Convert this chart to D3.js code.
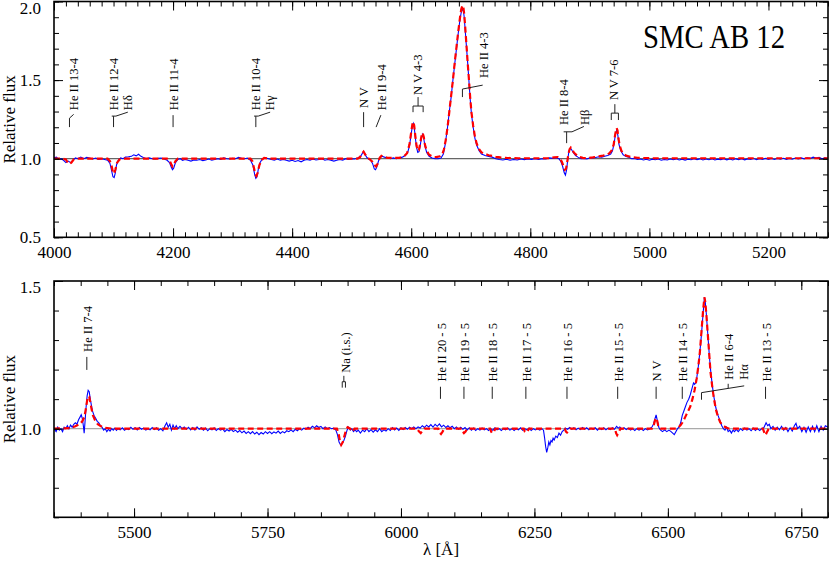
<!DOCTYPE html>
<html>
<head>
<meta charset="utf-8">
<script src="https://cdn.jsdelivr.net/npm/d3@7"></script>
<style>
  body { margin: 0; background: #fff; }
  svg, svg text { font-family: "Liberation Serif", "DejaVu Serif", "Times New Roman", serif; }
  .axis text { font-size: 17px; fill: #000; font-family: "Liberation Serif", "DejaVu Serif", serif; }
  .axis line { stroke: #000; stroke-width: 1; }
  .axis path { display: none; }
  .lbl { font-size: 12.5px; fill: #000; }
  .mark { fill: none; stroke: #222; stroke-width: 1; }
</style>
</head>
<body>
<div id="chart"></div>
<script>
// Observed spectrum (blue), upper panel: [wavelength, relative flux]
var obsTop = [
  [4000,1.005],[4004,1.01],[4008,0.995],[4012,1.0],[4016,0.99],[4020,0.975],[4024,0.985],[4028,0.975],[4032,0.99],
  [4036,1.005],[4040,1.0],[4045,1.01],[4050,1.0],[4055,1.008],[4060,1.005],[4065,0.998],[4070,1.004],[4075,0.996],
  [4080,1.0],[4085,0.995],[4090,0.99],[4094,0.97],[4097,0.92],[4099,0.885],[4101,0.88],[4103,0.91],[4105,0.96],
  [4108,0.99],[4112,1.005],[4116,1.0],[4120,1.01],[4125,1.012],[4130,1.015],[4134,1.025],[4138,1.018],[4142,1.028],
  [4146,1.015],[4150,1.008],[4155,1.0],[4160,1.005],[4165,1.0],[4170,0.998],[4175,1.002],[4180,1.004],[4185,0.998],
  [4190,0.99],[4194,0.975],[4197,0.945],[4199,0.93],[4201,0.94],[4204,0.975],[4208,0.995],[4212,1.0],[4216,0.99],
  [4220,0.995],[4225,0.99],[4230,0.985],[4235,0.992],[4240,0.99],[4245,0.995],[4250,0.988],[4255,0.992],[4260,0.998],
  [4265,0.99],[4270,0.995],[4275,1.0],[4280,0.996],[4285,1.005],[4290,1.0],[4295,0.998],[4300,1.003],[4305,1.0],
  [4310,1.008],[4315,1.002],[4320,1.0],[4325,1.004],[4330,0.99],[4334,0.96],[4337,0.9],[4339,0.875],[4341,0.885],
  [4343,0.93],[4346,0.975],[4350,1.0],[4355,1.005],[4360,1.0],[4365,0.995],[4370,0.99],[4375,0.998],[4380,0.99],
  [4385,0.995],[4390,0.99],[4395,0.985],[4400,0.99],[4405,0.982],[4410,0.988],[4415,0.98],[4420,0.99],[4425,0.995],
  [4430,0.99],[4435,0.998],[4440,0.992],[4445,0.995],[4450,1.0],[4455,0.99],[4460,0.995],[4465,0.99],[4470,0.985],
  [4475,0.99],[4480,0.995],[4485,0.99],[4490,1.0],[4495,0.995],[4500,1.0],[4505,0.998],[4510,1.004],[4515,1.015],
  [4518,1.035],[4520,1.045],[4522,1.03],[4525,1.01],[4528,1.0],[4532,0.99],[4535,0.97],[4538,0.935],[4540,0.93],
  [4542,0.945],[4545,0.985],[4548,1.01],[4551,1.015],[4555,1.01],[4560,1.005],[4565,1.0],[4570,1.005],[4575,1.0],
  [4580,1.005],[4585,1.01],[4590,1.02],[4594,1.04],[4597,1.08],[4600,1.16],[4602,1.21],[4603.5,1.225],[4605,1.2],
  [4607,1.13],[4609,1.07],[4611,1.04],[4613,1.045],[4615,1.08],[4617,1.13],[4619,1.155],[4621,1.13],[4623,1.08],
  [4626,1.04],[4630,1.015],[4635,1.005],[4640,1.0],[4645,1.0],[4650,1.005],[4654,1.03],[4657,1.09],[4661,1.2],
  [4664,1.3],[4667,1.39],[4670,1.5],[4673,1.6],[4676,1.7],[4679,1.8],[4682,1.89],[4684,1.93],[4686,1.95],
  [4687.5,1.945],[4689,1.9],[4691,1.8],[4693,1.7],[4695,1.6],[4697,1.49],[4699,1.38],[4701,1.29],[4704,1.2],
  [4707,1.13],[4710,1.085],[4714,1.05],[4718,1.03],[4724,1.02],[4730,1.015],[4736,1.01],[4742,1.0],[4748,0.995],
  [4754,0.992],[4760,0.996],[4766,0.99],[4772,0.995],[4778,0.992],[4784,0.998],[4790,0.994],[4796,0.998],[4802,0.996],
  [4808,1.0],[4814,0.995],[4820,1.0],[4826,0.998],[4832,1.005],[4838,1.002],[4843,1.006],[4848,1.0],[4851,0.985],
  [4854,0.955],[4857,0.91],[4859,0.895],[4861,0.93],[4863,1.0],[4865,1.05],[4867,1.065],[4869,1.06],[4872,1.04],
  [4876,1.02],[4880,1.01],[4885,1.0],[4890,1.002],[4895,0.998],[4900,1.005],[4905,1.004],[4910,1.008],[4915,1.012],
  [4920,1.01],[4925,1.015],[4930,1.02],[4935,1.03],[4938,1.05],[4941,1.1],[4943,1.16],[4945,1.18],[4947,1.15],
  [4949,1.09],[4952,1.05],[4956,1.025],[4960,1.015],[4965,1.01],[4970,1.0],[4975,1.002],[4980,0.995],[4985,0.998],
  [4990,0.992],[4995,0.996],[5000,0.99],[5005,0.997],[5010,0.993],[5015,0.998],[5020,0.99],[5025,0.995],[5030,0.992],
  [5035,0.998],[5040,0.993],[5045,0.999],[5050,0.992],[5055,0.997],[5060,0.991],[5065,0.996],[5070,0.993],[5075,1.0],
  [5080,0.994],[5085,0.999],[5090,0.992],[5095,0.998],[5100,0.993],[5105,0.999],[5110,0.992],[5115,0.997],[5120,0.994],
  [5125,1.0],[5130,0.993],[5135,0.998],[5140,0.992],[5145,0.999],[5150,0.994],[5155,1.0],[5160,0.993],[5165,0.999],
  [5170,0.995],[5175,1.001],[5180,0.994],[5185,1.0],[5190,0.995],[5195,1.002],[5200,0.996],[5205,1.001],[5210,0.995],
  [5215,1.002],[5220,0.997],[5225,1.003],[5230,0.996],[5235,1.002],[5240,0.997],[5245,1.004],[5250,0.998],[5255,1.005],
  [5260,0.999],[5265,1.006],[5270,1.002],[5275,1.01],[5280,1.004],[5285,1.008],[5290,1.0],[5295,1.005],[5300,1.0]
];

// Model spectrum (red dashed), upper panel
var modelTop = [
  [4000,1.0],[4015,1.0],[4020,0.995],[4023,0.975],[4026,0.965],[4029,0.975],[4033,0.995],[4040,1.0],[4090,1.0],
  [4094,0.985],[4097,0.95],[4099,0.915],[4101,0.905],[4103,0.93],[4106,0.975],[4110,0.995],[4115,1.0],[4190,1.0],
  [4194,0.99],[4197,0.965],[4199,0.95],[4201,0.958],[4204,0.985],[4208,1.0],[4330,1.0],[4333,0.985],[4336,0.94],
  [4338,0.9],[4340,0.89],[4342,0.91],[4345,0.96],[4349,0.993],[4353,1.005],[4360,1.0],[4510,1.0],[4514,1.01],
  [4517,1.03],[4520,1.045],[4523,1.025],[4527,1.005],[4531,0.995],[4535,0.98],[4538,0.96],[4541,0.95],[4544,0.97],
  [4547,1.005],[4550,1.018],[4554,1.012],[4560,1.005],[4580,1.005],[4588,1.015],[4593,1.035],[4597,1.09],[4600,1.17],
  [4602,1.22],[4603.5,1.235],[4605,1.21],[4607,1.14],[4609,1.08],[4611,1.05],[4613,1.055],[4615,1.095],[4617,1.14],
  [4619,1.165],[4621,1.14],[4623,1.09],[4626,1.05],[4630,1.025],[4636,1.012],[4642,1.01],[4648,1.015],[4652,1.025],
  [4655,1.06],[4658,1.12],[4661,1.2],[4664,1.3],[4667,1.4],[4670,1.5],[4673,1.61],[4676,1.71],[4679,1.81],
  [4682,1.9],[4684,1.95],[4686,1.975],[4687.5,1.965],[4689,1.92],[4691,1.82],[4693,1.71],[4695,1.6],[4697,1.5],
  [4699,1.39],[4701,1.3],[4704,1.21],[4707,1.14],[4710,1.095],[4714,1.06],[4718,1.04],[4724,1.03],[4730,1.022],
  [4736,1.018],[4742,1.012],[4750,1.008],[4760,1.005],[4780,1.003],[4800,1.003],[4830,1.003],[4840,1.008],[4846,1.01],
  [4850,1.0],[4853,0.98],[4856,0.95],[4858,0.93],[4860,0.935],[4862,0.98],[4864,1.03],[4866,1.06],[4868,1.07],
  [4870,1.06],[4873,1.04],[4877,1.025],[4882,1.012],[4888,1.005],[4895,1.003],[4905,1.008],[4915,1.015],[4922,1.02],
  [4928,1.025],[4933,1.035],[4937,1.055],[4940,1.09],[4942,1.14],[4944,1.185],[4945,1.195],[4946.5,1.18],[4948,1.13],
  [4950,1.085],[4953,1.05],[4957,1.03],[4962,1.018],[4970,1.01],[4980,1.006],[5000,1.003],[5300,1.003]
];

// Observed spectrum (blue), lower panel
var obsBottom = [
  [5350,1.0],[5354,0.99],[5357,1.005],[5360,0.995],[5363,1.0],[5366,0.99],[5369,1.005],[5372,1.0],[5375,1.01],
  [5378,1.0],[5381,1.012],[5384,1.005],[5387,1.015],[5390,1.02],[5393,1.015],[5396,1.03],[5399,1.04],[5401,1.047],
  [5403,1.035],[5405,1.01],[5406.5,0.985],[5408,1.02],[5410,1.07],[5412,1.11],[5414,1.13],[5416,1.125],[5418,1.1],
  [5420,1.08],[5422,1.06],[5425,1.045],[5428,1.035],[5431,1.025],[5434,1.02],[5437,1.01],[5440,1.005],[5443,0.995],
  [5446,1.0],[5449,0.99],[5452,0.998],[5455,0.992],[5458,1.0],[5461,0.995],[5464,1.002],[5467,0.994],[5470,1.0],
  [5474,0.996],[5478,1.003],[5482,0.995],[5486,1.0],[5490,0.997],[5494,1.005],[5498,0.998],[5502,1.003],[5506,0.996],
  [5510,1.004],[5514,0.998],[5518,1.002],[5522,0.995],[5526,1.0],[5530,0.996],[5534,1.004],[5538,0.997],[5542,1.003],
  [5546,0.995],[5550,1.0],[5554,0.993],[5558,1.01],[5561,1.02],[5564,1.005],[5567,1.015],[5570,0.995],[5573,1.012],
  [5576,1.0],[5579,1.01],[5582,1.0],[5586,1.008],[5590,1.0],[5594,1.006],[5598,0.998],[5602,1.005],[5606,0.996],
  [5610,1.004],[5614,0.995],[5618,1.006],[5622,0.998],[5626,1.003],[5630,0.995],[5634,1.002],[5638,0.993],[5642,1.0],
  [5646,0.996],[5650,1.003],[5654,0.994],[5658,1.0],[5662,0.995],[5666,0.999],[5670,0.99],[5674,0.997],[5678,0.992],
  [5682,0.998],[5686,0.99],[5690,0.995],[5694,0.988],[5698,0.994],[5702,0.986],[5706,0.992],[5710,0.984],[5714,0.99],
  [5718,0.983],[5722,0.99],[5726,0.982],[5730,0.988],[5734,0.98],[5738,0.987],[5742,0.982],[5746,0.99],[5750,0.984],
  [5754,0.99],[5758,0.983],[5762,0.989],[5766,0.985],[5770,0.992],[5774,0.984],[5778,0.99],[5782,0.986],[5786,0.993],
  [5790,0.99],[5794,0.996],[5798,0.99],[5802,0.998],[5806,0.993],[5810,1.0],[5814,0.995],[5818,1.002],[5822,0.998],
  [5826,1.005],[5830,1.0],[5834,1.008],[5838,1.003],[5842,1.01],[5846,1.004],[5850,1.008],[5854,1.0],[5858,1.006],
  [5862,1.0],[5866,1.004],[5870,1.0],[5874,1.002],[5878,0.995],[5881,0.98],[5884,0.955],[5887,0.945],[5890,0.95],
  [5893,0.96],[5896,0.975],[5899,0.995],[5902,1.005],[5905,0.995],[5908,1.0],[5911,0.99],[5914,0.996],[5917,0.99],
  [5920,0.995],[5924,0.985],[5928,0.995],[5932,0.99],[5936,1.0],[5940,0.99],[5944,0.997],[5948,0.988],[5952,0.996],
  [5956,0.99],[5960,1.0],[5964,0.99],[5968,0.996],[5972,0.992],[5976,1.0],[5980,0.994],[5984,1.004],[5988,0.996],
  [5992,1.002],[5996,0.994],[6000,1.003],[6004,0.997],[6008,1.004],[6012,0.998],[6016,1.005],[6020,1.0],[6024,1.006],
  [6028,1.0],[6032,1.006],[6036,1.002],[6040,1.01],[6044,1.004],[6048,1.012],[6052,1.006],[6056,1.014],[6060,1.005],
  [6064,1.015],[6068,1.008],[6072,1.016],[6076,1.006],[6080,1.012],[6084,1.004],[6088,1.01],[6092,1.003],[6096,1.008],
  [6100,1.0],[6104,1.006],[6108,0.998],[6112,1.005],[6116,0.998],[6120,1.004],[6124,0.996],[6128,1.003],[6132,0.995],
  [6136,1.002],[6140,0.994],[6144,1.0],[6148,0.995],[6152,1.002],[6156,0.996],[6160,1.0],[6164,0.994],[6168,1.0],
  [6172,0.995],[6176,1.003],[6180,0.996],[6184,1.0],[6188,0.994],[6192,1.0],[6196,0.996],[6200,1.002],[6204,0.995],
  [6208,1.0],[6212,0.994],[6216,1.0],[6220,0.996],[6224,1.003],[6228,0.995],[6232,1.0],[6236,0.996],[6240,1.002],
  [6244,0.994],[6248,1.0],[6252,0.996],[6256,1.0],[6260,0.995],[6264,1.0],[6267,0.995],[6269,0.97],[6271,0.94],
  [6273,0.92],[6275,0.935],[6277,0.955],[6279,0.945],[6281,0.96],[6283,0.955],[6285,0.968],[6287,0.962],[6290,0.975],
  [6293,0.97],[6296,0.985],[6299,0.978],[6302,0.99],[6305,0.995],[6308,1.002],[6312,0.998],[6316,1.004],[6320,0.998],
  [6324,1.003],[6328,0.996],[6332,1.002],[6336,0.997],[6340,1.004],[6344,0.998],[6348,1.003],[6352,0.996],[6356,1.002],
  [6360,0.998],[6364,1.003],[6368,0.995],[6372,1.002],[6376,0.997],[6380,1.003],[6384,0.996],[6388,1.002],[6392,0.997],
  [6396,1.003],[6400,0.998],[6404,1.008],[6407,1.002],[6410,1.006],[6414,0.998],[6418,1.003],[6422,0.997],[6426,1.002],
  [6430,0.995],[6434,1.0],[6438,0.994],[6442,1.0],[6446,0.995],[6450,1.0],[6454,0.994],[6458,1.0],[6462,0.996],
  [6466,1.0],[6470,1.005],[6473,1.015],[6476,1.035],[6478,1.047],[6480,1.03],[6483,1.005],[6486,0.996],[6490,0.99],
  [6494,0.996],[6498,0.99],[6502,0.995],[6506,0.99],[6509,0.985],[6512,0.98],[6515,0.99],[6518,1.0],[6521,1.005],
  [6524,1.02],[6527,1.045],[6530,1.06],[6533,1.075],[6536,1.09],[6539,1.1],[6542,1.115],[6545,1.135],[6548,1.155],
  [6550,1.15],[6552,1.155],[6554,1.17],[6557,1.21],[6560,1.26],[6563,1.32],[6566,1.39],[6568.5,1.445],[6570,1.43],
  [6572,1.39],[6574,1.34],[6576,1.29],[6578,1.24],[6580,1.2],[6583,1.15],[6586,1.11],[6590,1.07],[6594,1.045],
  [6598,1.025],[6601,1.01],[6604,1.0],[6607,0.995],[6610,1.005],[6613,0.99],[6616,0.995],[6619,0.985],[6622,0.995],
  [6625,0.99],[6628,0.998],[6632,0.99],[6636,1.0],[6640,0.994],[6644,1.002],[6648,0.995],[6652,1.0],[6656,0.993],
  [6660,1.002],[6664,0.994],[6668,1.0],[6672,0.994],[6676,1.0],[6680,1.004],[6684,1.02],[6687,1.01],[6690,1.015],
  [6693,1.0],[6697,1.008],[6701,0.995],[6705,1.005],[6709,0.996],[6713,1.008],[6717,0.995],[6721,1.004],[6725,0.99],
  [6729,1.003],[6733,0.992],[6737,1.01],[6740,1.018],[6743,1.0],[6747,1.008],[6751,0.99],[6755,1.005],[6759,0.988],
  [6763,1.006],[6767,0.99],[6771,1.008],[6775,0.99],[6779,1.01],[6783,0.99],[6787,1.008],[6791,0.995],[6795,1.01],
  [6800,1.005]
];

// Model spectrum (red dashed), lower panel
var modelBottom = [
  [5350,1.0],[5380,1.002],[5390,1.008],[5398,1.015],[5403,1.025],[5407,1.04],[5410,1.07],[5412,1.095],[5414,1.11],
  [5416,1.108],[5418,1.09],[5420,1.07],[5423,1.045],[5427,1.028],[5432,1.015],[5438,1.008],[5446,1.003],[5460,1.0],
  [5880,1.0],[5883,0.985],[5886,0.955],[5888,0.945],[5891,0.955],[5894,0.975],[5897,0.995],[5900,1.005],[5905,1.0],
  [5909,0.99],[5913,1.0],[6030,1.0],[6034,0.99],[6037,0.985],[6040,0.992],[6044,1.0],[6070,1.0],[6072,0.988],
  [6075,0.982],[6078,0.99],[6081,1.0],[6114,1.0],[6116,0.99],[6118,0.985],[6121,0.99],[6124,1.0],[6167,1.0],
  [6169,0.99],[6171,0.985],[6174,0.99],[6177,1.0],[6230,1.0],[6232,0.99],[6234,0.987],[6237,0.992],[6240,1.0],
  [6307,1.0],[6309,0.99],[6311,0.987],[6314,0.993],[6317,1.0],[6401,1.0],[6403,0.985],[6405,0.978],[6408,0.988],
  [6411,1.0],[6470,1.0],[6474,1.015],[6477,1.035],[6479,1.035],[6482,1.01],[6486,1.0],[6515,1.0],[6520,1.005],
  [6524,1.012],[6527,1.02],[6530,1.03],[6534,1.045],[6538,1.06],[6542,1.075],[6546,1.1],[6550,1.13],[6554,1.17],
  [6557,1.21],[6560,1.26],[6563,1.33],[6566,1.4],[6568.5,1.445],[6570,1.43],[6572,1.39],[6574,1.34],[6576,1.29],
  [6578,1.24],[6580,1.19],[6583,1.145],[6586,1.105],[6590,1.065],[6594,1.04],[6598,1.022],[6602,1.012],[6608,1.005],
  [6615,1.0],[6678,1.0],[6681,0.985],[6683,0.978],[6686,0.99],[6689,1.0],[6800,1.0]
];

// Axis ticks
var xMajorTop = [4000, 4200, 4400, 4600, 4800, 5000, 5200];
var yMajorTop = [0.5, 1.0, 1.5, 2.0];
var xMajorBottom = [5500, 5750, 6000, 6250, 6500, 6750];
var yMajorBottom = [1.0, 1.5];

// Line identifications: marker polylines [wavelength, flux] and rotated names
var linesTop = [
  {segs: [[[4026,1.201],[4026,1.258],[4033,1.282]]], texts: [["He II 13-4",4034,1.309]]},
  {segs: [[[4100,1.201],[4100,1.271]],[[4097,1.271],[4104,1.271],[4124,1.296]]], texts: [["He II 12-4",4101,1.309],["Hδ",4124,1.309]]},
  {segs: [[[4200,1.201],[4200,1.277]]], texts: [["He II 11-4",4201.5,1.309]]},
  {segs: [[[4339,1.201],[4339,1.271]],[[4336,1.271],[4343,1.271],[4363,1.296]]], texts: [["He II 10-4",4340,1.309],["Hγ",4363,1.309]]},
  {segs: [[[4520,1.201],[4520,1.296]]], texts: [["N V",4520,1.322]]},
  {segs: [[[4541,1.201],[4549,1.277]]], texts: [["He II 9-4",4550.4,1.309]]},
  {segs: [[[4603,1.296],[4603,1.335],[4620,1.335],[4620,1.296]],[[4611.5,1.335],[4611.5,1.392]]], texts: [["N V 4-3",4612,1.405]]},
  {segs: [[[4686,1.392],[4686,1.443],[4720,1.468]]], texts: [["He II 4-3",4722,1.513]]},
  {segs: [[[4861,1.099],[4861,1.171]],[[4856,1.171],[4870,1.171],[4890,1.205]]], texts: [["He II 8-4",4857,1.214],["Hβ",4892,1.214]]},
  {segs: [[[4936,1.246],[4936,1.29],[4948,1.29],[4948,1.246]],[[4942,1.29],[4942,1.347]]], texts: [["N V 7-6",4941,1.373]]}
];

var linesBottom = [
  {segs: [[[5411.5,1.199],[5411.5,1.243]]], texts: [["He II 7-4",5413,1.26]]},
  {segs: [[[5890,1.139],[5890,1.159],[5896,1.159],[5896,1.139]],[[5893,1.159],[5893,1.179]]], texts: [["Na (i.s.)",5897,1.189]]},
  {segs: [[[6074,1.101],[6074,1.142]]], texts: [["He II 20 - 5",6076,1.16]]},
  {segs: [[[6118,1.101],[6118,1.142]]], texts: [["He II 19 - 5",6120,1.16]]},
  {segs: [[[6171,1.101],[6171,1.142]]], texts: [["He II 18 - 5",6173,1.16]]},
  {segs: [[[6234,1.101],[6234,1.142]]], texts: [["He II 17 - 5",6236,1.16]]},
  {segs: [[[6311,1.101],[6311,1.142]]], texts: [["He II 16 - 5",6313,1.16]]},
  {segs: [[[6406,1.101],[6406,1.142]]], texts: [["He II 15 - 5",6408,1.16]]},
  {segs: [[[6478,1.101],[6478,1.142]]], texts: [["N V",6480,1.16]]},
  {segs: [[[6527,1.101],[6527,1.142]]], texts: [["He II 14 - 5",6529,1.16]]},
  {segs: [[[6563,1.098],[6563,1.122],[6643,1.145]],[[6613,1.137],[6613,1.152]]], texts: [["He II 6-4",6614,1.166],["Hα",6642,1.166]]},
  {segs: [[[6683,1.101],[6683,1.142]]], texts: [["He II 13 - 5",6685,1.16]]}
];

var W = 830, H = 563, L = 54, R = 828;

var svg = d3.select("#chart").append("svg")
  .attr("width", W)
  .attr("height", H);

function drawPanel(id, xDomain, yDomain, top, bottom, xMajor, xMinorStep, yMajor, obs, model, lines, refColor) {
  var x = d3.scaleLinear().domain(xDomain).range([L, R]),
      y = d3.scaleLinear().domain(yDomain).range([bottom, top]),
      xMinor = d3.range(xDomain[0], xDomain[1] + 0.001, xMinorStep),
      yMinor = d3.range(Math.round(yDomain[0] * 10), Math.round(yDomain[1] * 10) + 1).map(function(d) { return d / 10; }),
      g = svg.append("g"),
      line = d3.line().x(function(d) { return x(d[0]); }).y(function(d) { return y(d[1]); });

  svg.append("clipPath").attr("id", id)
    .append("rect")
    .attr("x", L).attr("y", top)
    .attr("width", R - L).attr("height", bottom - top);

  var plot = g.append("g").attr("clip-path", "url(#" + id + ")");

  // continuum level
  plot.append("line")
    .attr("x1", L).attr("x2", R)
    .attr("y1", y(1)).attr("y2", y(1))
    .attr("stroke", refColor)
    .attr("stroke-width", 1.2);

  plot.append("path")
    .datum(obs)
    .attr("d", line)
    .attr("fill", "none")
    .attr("stroke", "#0000ff")
    .attr("stroke-width", 1.1);

  plot.append("path")
    .datum(model)
    .attr("d", line)
    .attr("fill", "none")
    .attr("stroke", "#ff0000")
    .attr("stroke-width", 2.2)
    .attr("stroke-dasharray", "6,3.5");

  // line identifications
  lines.forEach(function(m) {
    m.segs.forEach(function(s) {
      g.append("path").attr("class", "mark").attr("d", line(s));
    });
    m.texts.forEach(function(t) {
      g.append("text")
        .attr("class", "lbl")
        .attr("transform", "translate(" + x(t[1]) + "," + y(t[2]) + ") rotate(-90)")
        .attr("dominant-baseline", "central")
        .text(t[0]);
    });
  });

  // axes: major and minor ticks on all four sides, pointing inward
  g.append("g").attr("class", "axis")
    .attr("transform", "translate(0," + bottom + ")")
    .call(d3.axisBottom(x).tickValues(xMajor).tickSize(-9).tickSizeOuter(0).tickPadding(9).tickFormat(d3.format("d")));
  g.append("g").attr("class", "axis")
    .attr("transform", "translate(0," + bottom + ")")
    .call(d3.axisBottom(x).tickValues(xMinor).tickSize(-5).tickSizeOuter(0).tickFormat(""));
  g.append("g").attr("class", "axis")
    .attr("transform", "translate(0," + top + ")")
    .call(d3.axisTop(x).tickValues(xMajor).tickSize(-9).tickSizeOuter(0).tickFormat(""));
  g.append("g").attr("class", "axis")
    .attr("transform", "translate(0," + top + ")")
    .call(d3.axisTop(x).tickValues(xMinor).tickSize(-5).tickSizeOuter(0).tickFormat(""));

  var yAxis = g.append("g").attr("class", "axis")
    .attr("transform", "translate(" + L + ",0)")
    .call(d3.axisLeft(y).tickValues(yMajor).tickSize(-9).tickSizeOuter(0).tickPadding(13).tickFormat(d3.format(".1f")));
  yAxis.selectAll(".tick text")
    .filter(function(d) { return d === yDomain[1]; })
    .attr("y", 6.5);
  g.append("g").attr("class", "axis")
    .attr("transform", "translate(" + L + ",0)")
    .call(d3.axisLeft(y).tickValues(yMinor).tickSize(-5).tickSizeOuter(0).tickFormat(""));
  g.append("g").attr("class", "axis")
    .attr("transform", "translate(" + R + ",0)")
    .call(d3.axisRight(y).tickValues(yMajor).tickSize(-9).tickSizeOuter(0).tickFormat(""));
  g.append("g").attr("class", "axis")
    .attr("transform", "translate(" + R + ",0)")
    .call(d3.axisRight(y).tickValues(yMinor).tickSize(-5).tickSizeOuter(0).tickFormat(""));

  // frame
  g.append("rect")
    .attr("x", L).attr("y", top)
    .attr("width", R - L).attr("height", bottom - top)
    .attr("fill", "none")
    .attr("stroke", "#000")
    .attr("stroke-width", 1.6);

  // y label
  g.append("text")
    .attr("transform", "translate(15," + ((top + bottom) / 2) + ") rotate(-90)")
    .style("text-anchor", "middle")
    .style("font-size", "17px")
    .text("Relative flux");

  return {x: x, y: y};
}

drawPanel("clipTop", [4000, 5300], [0.5, 2.0], 1.5, 237.3, xMajorTop, 20, yMajorTop,
  obsTop, modelTop, linesTop, "#666");
drawPanel("clipBottom", [5350, 6800], [0.7, 1.5], 281, 517.3, xMajorBottom, 50, yMajorBottom,
  obsBottom, modelBottom, linesBottom, "#aaa");

// star name
svg.append("text")
  .attr("x", 643)
  .attr("y", 48)
  .attr("textLength", 142)
  .attr("lengthAdjust", "spacingAndGlyphs")
  .style("font-size", "34px")
  .text("SMC AB 12");

// x label
svg.append("text")
  .attr("x", (L + R) / 2)
  .attr("y", 555)
  .style("text-anchor", "middle")
  .style("font-size", "17px")
  .text("λ [Å]");
</script>
</body>
</html>
